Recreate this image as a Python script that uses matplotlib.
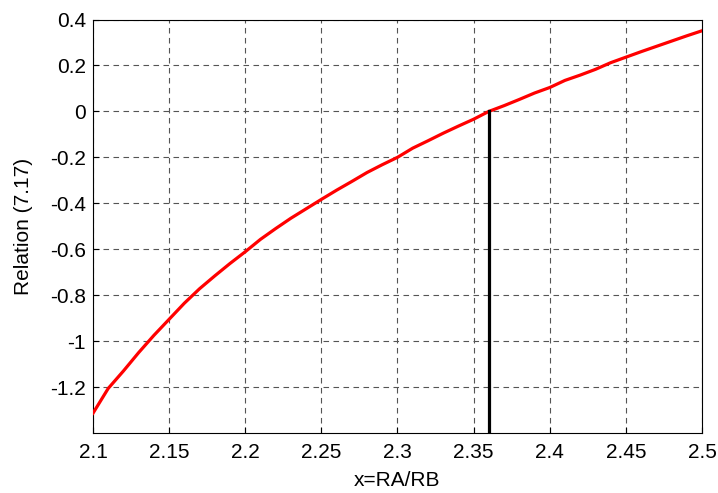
import numpy as np
import matplotlib
matplotlib.use('Agg')
import matplotlib.pyplot as plt

plt.rcParams['font.family'] = ['Liberation Sans', 'DejaVu Sans']

# curve, step 0.01
x_vals = [2.10, 2.11, 2.12, 2.13, 2.14, 2.15, 2.16, 2.17, 2.18, 2.19,
          2.20, 2.21, 2.22, 2.23, 2.24, 2.25, 2.26, 2.27, 2.28, 2.29,
          2.30, 2.31, 2.32, 2.33, 2.34, 2.35, 2.36, 2.37, 2.38, 2.39,
          2.40, 2.41, 2.42, 2.43, 2.44, 2.45, 2.46, 2.47, 2.48, 2.49, 2.50]
relation = [-1.314, -1.206, -1.130, -1.050, -0.975, -0.905, -0.835, -0.772, -0.716, -0.662,
            -0.611, -0.557, -0.510, -0.465, -0.424, -0.383, -0.343, -0.305, -0.266, -0.232,
            -0.200, -0.160, -0.128, -0.095, -0.064, -0.034, 0.000, 0.025, 0.052, 0.080,
            0.104, 0.135, 0.158, 0.183, 0.212, 0.236, 0.260, 0.283, 0.306, 0.329, 0.351]

root_x = 2.36
xticks = [2.1, 2.15, 2.2, 2.25, 2.3, 2.35, 2.4, 2.45, 2.5]
xticklabels = ['2.1', '2.15', '2.2', '2.25', '2.3', '2.35', '2.4', '2.45', '2.5']
yticks = [-1.2, -1.0, -0.8, -0.6, -0.4, -0.2, 0.0, 0.2, 0.4]
yticklabels = ['-1.2', '-1', '-0.8', '-0.6', '-0.4', '-0.2', '0', '0.2', '0.4']

fig = plt.figure(figsize=(7.18, 4.93), dpi=100)
ax = fig.add_axes([0.1295, 0.1217, 0.8482, 0.8387])

ax.plot(x_vals, relation, color='red', lw=2.3, zorder=3)
ax.plot([root_x, root_x], [-1.4, 0.0], color='black', lw=2.3, zorder=3)

ax.set_xlim(2.1, 2.5)
ax.set_ylim(-1.4, 0.4)
ax.set_xticks(xticks)
ax.set_xticklabels(xticklabels)
ax.set_yticks(yticks)
ax.set_yticklabels(yticklabels)
ax.tick_params(direction='in', length=4, labelsize=15, width=0.8)
ax.tick_params(axis='x', pad=7)
ax.tick_params(axis='y', pad=5)
ax.grid(True, color='#555555', ls=(0, (5, 4)), lw=0.8)
for s in ax.spines.values():
    s.set_linewidth(0.8)

ax.set_xlabel('x=RA/RB', fontsize=15, labelpad=7)
ax.set_ylabel('Relation (7.17)', fontsize=15, labelpad=12)

fig.savefig('out.png', dpi=100)
